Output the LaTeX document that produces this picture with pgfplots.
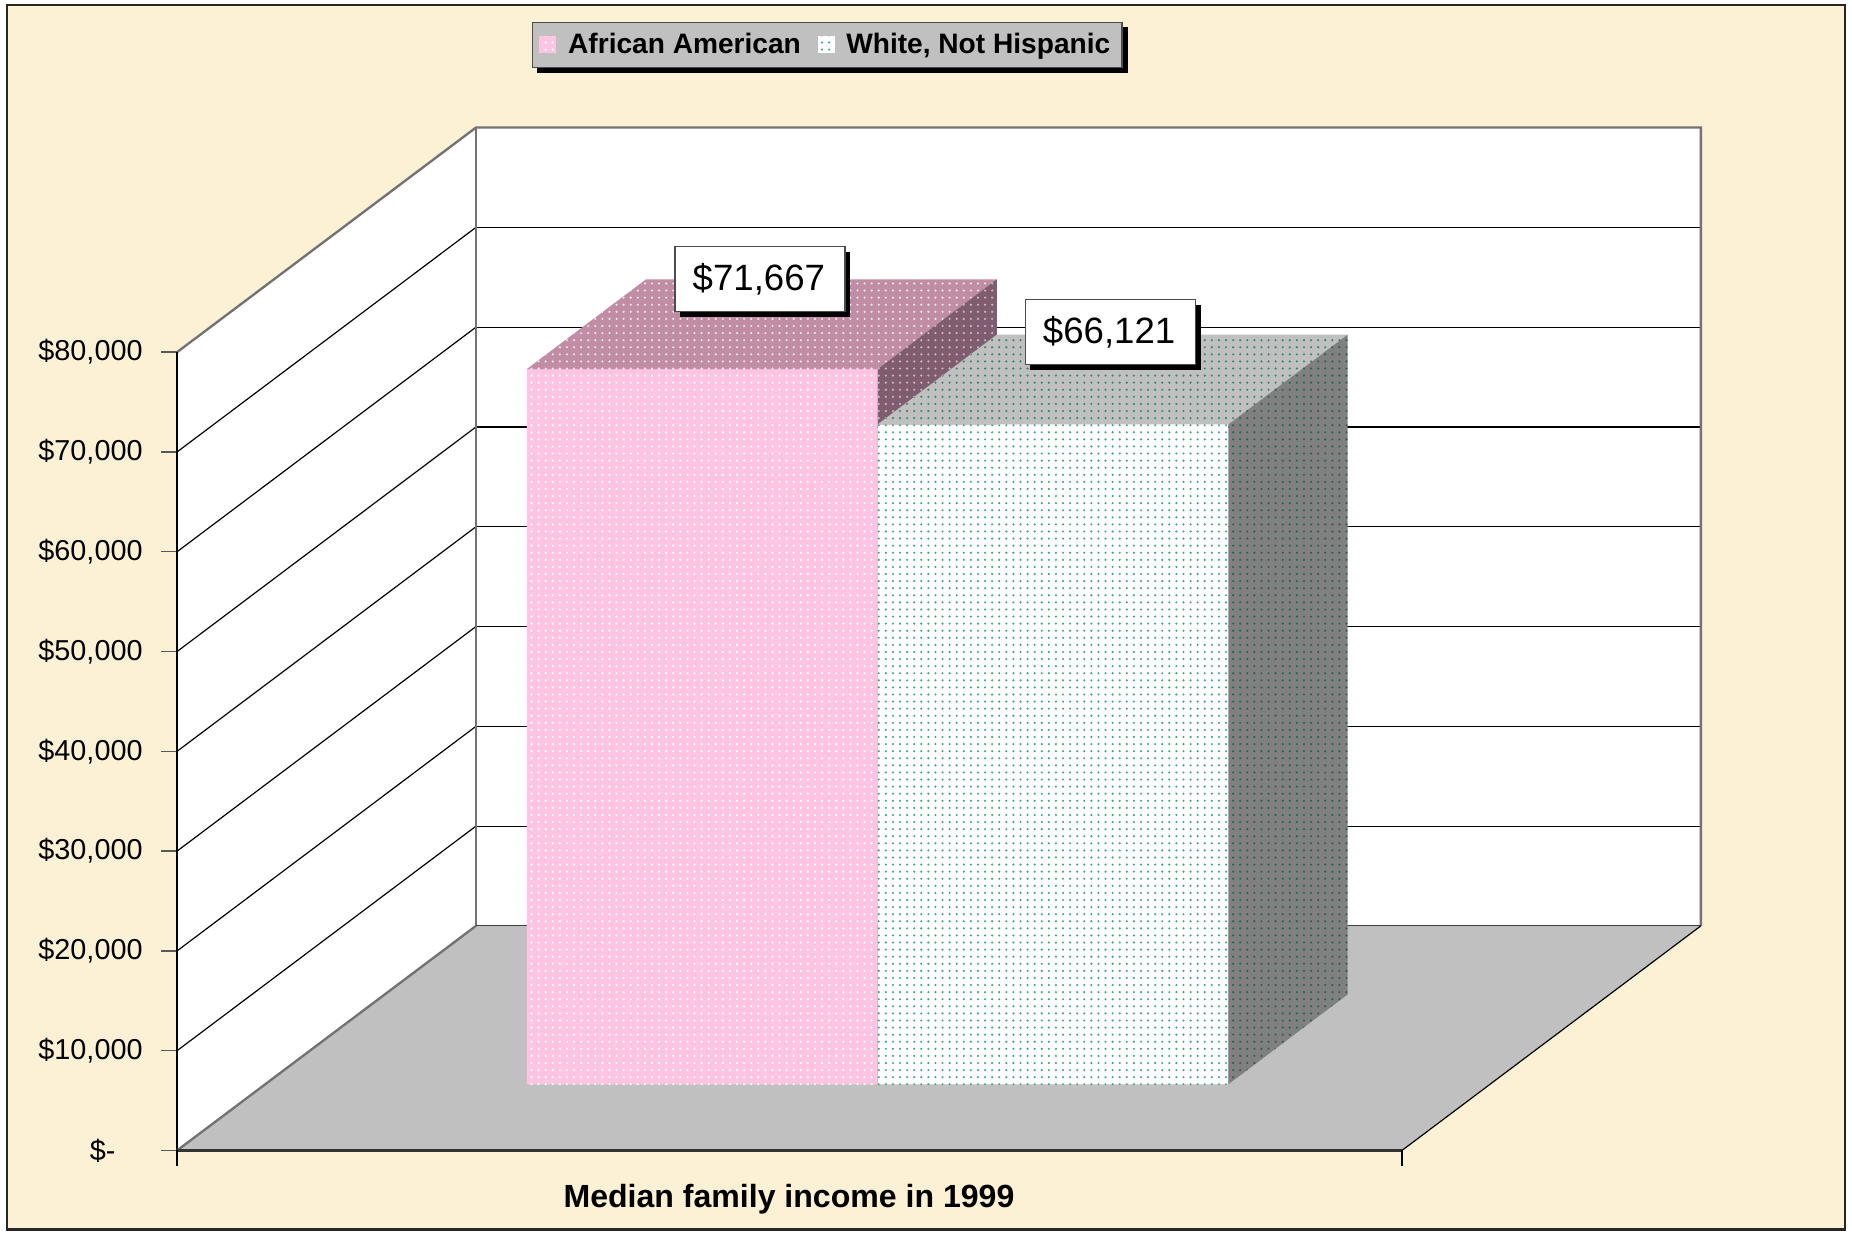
\documentclass[border=0pt]{standalone}
\usepackage{fontspec}
\setmainfont{Liberation Sans}
\usepackage{pgfplots}
\pgfplotsset{compat=1.18}
\usetikzlibrary{patterns,shadows}
\pgfdeclarelayer{bglayer}
\pgfdeclarelayer{shadowlayer}
\pgfsetlayers{bglayer,shadowlayer,main}
\definecolor{bg}{RGB}{252,241,212}
\definecolor{pinkfront}{RGB}{255,196,226}
\definecolor{pinktop}{RGB}{192,140,166}
\definecolor{pinkside}{RGB}{128,92,112}
\definecolor{dotgreen}{RGB}{70,165,120}
\definecolor{floorgray}{RGB}{192,192,192}
\definecolor{wtop}{RGB}{192,192,192}
\definecolor{wside}{RGB}{128,128,128}
\tikzset{
  aafront/.style={draw=none,fill=pinkfront,postaction={pattern=dots,pattern color=white}},
  aatop/.style={draw=none,fill=pinktop,postaction={pattern=dots,pattern color=white!80!pinktop}},
  aaside/.style={draw=none,fill=pinkside,postaction={pattern=dots,pattern color=white!60!pinkside}},
  wfront/.style={draw=none,fill=white,postaction={pattern=dots,pattern color=dotgreen}},
  wtopst/.style={draw=none,fill=wtop,postaction={pattern=dots,pattern color=dotgreen!80!black}},
  wsidest/.style={draw=none,fill=wside,postaction={pattern=dots,pattern color=dotgreen!60!black}},
  datalabel/.style={draw=black!70, fill=white, line width=0.6pt,
    font=\fontsize{15.5}{18}\selectfont, text width=57pt, align=left,
    inner xsep=7.5pt, minimum height=27.5pt,
    drop shadow={shadow xshift=2.2pt, shadow yshift=-2.2pt, fill=black, opacity=1}},
}
% #1 left x of front face, #2 value (thousands of dollars), #3 front style
\newcommand{\threedbar}[3]{%
  \pgfmathsetmacro\xa{#1}%
  \pgfmathsetmacro\xb{#1+297}%
  \pgfmathsetmacro\ya{6.63}%
  \pgfmathsetmacro\yb{6.63+#2}%
  \edef\next{\noexpand\addplot[#3] coordinates {(\xa,\ya) (\xb,\ya) (\xb,\yb) (\xa,\yb) (\xa,\ya)};}\next
}
% #1 left x, #2 value, #3 top style, #4 side style
\newcommand{\threedtop}[4]{%
  \pgfmathsetmacro\xa{#1}%
  \pgfmathsetmacro\xb{#1+297}%
  \pgfmathsetmacro\xc{#1+297+101}%
  \pgfmathsetmacro\xd{#1+101}%
  \pgfmathsetmacro\ya{6.63}%
  \pgfmathsetmacro\yb{6.63+#2}%
  \pgfmathsetmacro\yc{6.63+#2+9}%
  \pgfmathsetmacro\yd{6.63+9}%
  \edef\next{\noexpand\addplot[#3,forget plot] coordinates {(\xa,\yb) (\xb,\yb) (\xc,\yc) (\xd,\yc) (\xa,\yb)};}\next
  \edef\next{\noexpand\addplot[#4,forget plot] coordinates {(\xb,\ya) (\xc,\yd) (\xc,\yc) (\xb,\yb) (\xb,\ya)};}\next
}
\begin{document}
\begin{tikzpicture}
\begin{pgfonlayer}{bglayer}
\fill[white] (-75pt,-35pt) rectangle (709pt,487pt);
\fill[bg,draw=black!85,line width=1pt] (-72pt,-33.5pt) rectangle (706pt,485pt);
\end{pgfonlayer}
\begin{axis}[
  at={(0,0)}, anchor=south west,
  scale only axis, width=645pt, height=433pt,
  xmin=0, xmax=1290, ymin=0, ymax=102.5,
  clip=false,
  axis line style={draw=none},
  xtick=\empty,
  ytick={0,10,20,30,40,50,60,70,80},
  yticklabels={{\$-\hspace*{11.5pt}},{\$10,000},{\$20,000},{\$30,000},{\$40,000},{\$50,000},{\$60,000},{\$70,000},{\$80,000}},
  ytick pos=left,
  tick align=outside,
  major tick length=6.8pt,
  tick style={black!65, line width=0.6pt},
  yticklabel style={font=\fontsize{12.2}{14}\selectfont, xshift=-4.3pt},
  legend columns=2,
  legend style={at={(0.2326,1.1035)}, anchor=north west, name=leg,
    fill=floorgray, draw=black!70, line width=0.6pt,
    font=\bfseries\fontsize{11.9}{14}\selectfont,
    inner xsep=3pt, inner ysep=2.5pt,
    /tikz/every even column/.append style={column sep=5pt}},
  legend image code/.code={\path[#1] (0pt,-3.6pt) rectangle (7.2pt,3.6pt); \path (10.2pt,0pt);},
]
% left wall
\fill[white] (axis cs:0,0) -- (axis cs:0,80) -- (axis cs:253,102.5) -- (axis cs:253,22.5) -- cycle;
\draw[black, line width=0.5pt] (axis cs:0,10) -- (axis cs:253,32.5);
\draw[black, line width=0.5pt] (axis cs:0,20) -- (axis cs:253,42.5);
\draw[black, line width=0.5pt] (axis cs:0,30) -- (axis cs:253,52.5);
\draw[black, line width=0.5pt] (axis cs:0,40) -- (axis cs:253,62.5);
\draw[black, line width=0.5pt] (axis cs:0,50) -- (axis cs:253,72.5);
\draw[black, line width=0.5pt] (axis cs:0,60) -- (axis cs:253,82.5);
\draw[black, line width=0.5pt] (axis cs:0,70) -- (axis cs:253,92.5);
% back wall
\fill[white] (axis cs:253,22.5) rectangle (axis cs:1290,102.5);
\draw[black, line width=0.5pt] (axis cs:253,32.5) -- (axis cs:1290,32.5);
\draw[black, line width=0.5pt] (axis cs:253,42.5) -- (axis cs:1290,42.5);
\draw[black, line width=0.5pt] (axis cs:253,52.5) -- (axis cs:1290,52.5);
\draw[black, line width=0.5pt] (axis cs:253,62.5) -- (axis cs:1290,62.5);
\draw[black, line width=0.5pt] (axis cs:253,72.5) -- (axis cs:1290,72.5);
\draw[black, line width=0.5pt] (axis cs:253,82.5) -- (axis cs:1290,82.5);
\draw[black, line width=0.5pt] (axis cs:253,92.5) -- (axis cs:1290,92.5);
\draw[black!55, line width=1pt] (axis cs:0,80) -- (axis cs:253,102.5) -- (axis cs:1290,102.5) -- (axis cs:1290,22.5);
\draw[black!55, line width=0.8pt] (axis cs:253,22.5) -- (axis cs:253,102.5);
\draw[black, line width=0.6pt] (axis cs:0,0) -- (axis cs:0,80);
% floor
\fill[floorgray] (axis cs:0,0) -- (axis cs:1037,0) -- (axis cs:1290,22.5) -- (axis cs:253,22.5) -- cycle;
\draw[black!75, line width=0.5pt] (axis cs:253,22.5) -- (axis cs:1290,22.5);
\draw[black, line width=0.5pt] (axis cs:1037,0) -- (axis cs:1290,22.5);
\draw[black!55, line width=1pt] (axis cs:0,0) -- (axis cs:253,22.5);
\draw[black!80, line width=1pt] (axis cs:0,0) -- (axis cs:1037,0);
% x ticks
\draw[black, line width=0.6pt] (axis cs:0,0) -- ++(0pt,-6.4pt);
\draw[black, line width=0.6pt] (axis cs:1037,0) -- ++(0pt,-6.4pt);
% bars (values in thousands of dollars)
\threedbar{296}{71.667}{aafront}
\addlegendentry{African American}
\threedtop{296}{71.667}{aatop}{aaside}
\threedbar{593}{66.121}{wfront}
\addlegendentry{White, Not Hispanic}
\threedtop{593}{66.121}{wtopst}{wsidest}
% data labels
\node[datalabel] at (axis cs:493.5,87.3) {\$71,667};
\node[datalabel] at (axis cs:790,82.0) {\$66,121};
% category label
\node[font=\bfseries\fontsize{13.57}{16}\selectfont] at (axis cs:518,0) [yshift=-20.5pt] {Median family income in 1999};
\end{axis}
\begin{pgfonlayer}{shadowlayer}
\fill[black] ([xshift=2.2pt,yshift=-2.2pt]leg.south west) rectangle ([xshift=2.2pt,yshift=-2.2pt]leg.north east);
\end{pgfonlayer}
\pgfresetboundingbox
\path (-75pt,-35pt) rectangle (709pt,487pt);
\end{tikzpicture}
\end{document}
